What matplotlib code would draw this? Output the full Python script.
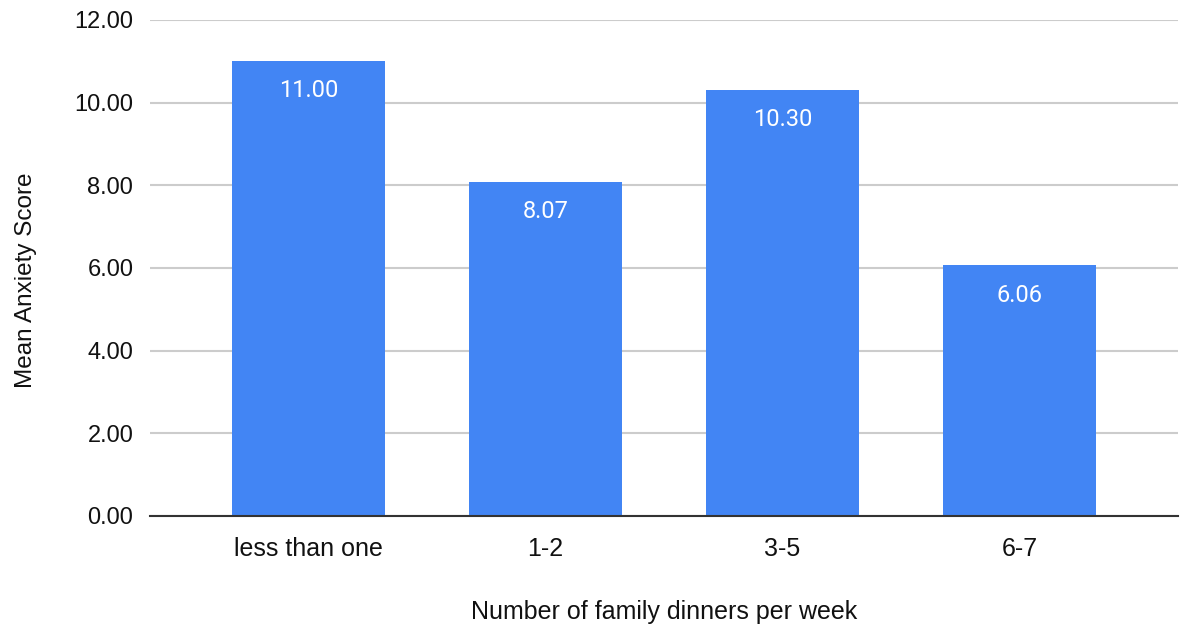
import matplotlib.pyplot as plt

categories = ['less than one', '1-2', '3-5', '6-7']
mean_anxiety = [11.00, 8.07, 10.30, 6.06]
y_ticks = [0, 2, 4, 6, 8, 10, 12]

BAR_COLOR = '#4285f4'

fig = plt.figure(figsize=(11.83, 6.24), dpi=100)
ax = fig.add_axes([0.1268, 0.1731, 0.869, 0.7949])

x = list(range(len(categories)))
bars = ax.bar(x, mean_anxiety, width=0.646, color=BAR_COLOR, zorder=2)

for xi, v in zip(x, mean_anxiety):
    ax.annotate(f'{v:.2f}', xy=(xi, v), xytext=(0, -13), textcoords='offset points',
                ha='center', va='top', color='white', fontsize=17, family='Roboto')

ax.set_xlim(-0.669, len(categories) - 1 + 0.669)
ax.set_ylim(0, 12)
ax.set_yticks(y_ticks)
ax.set_yticklabels([f'{t:.2f}' for t in y_ticks], fontsize=17, family='Liberation Sans')
ax.set_xticks(x)
ax.set_xticklabels(categories, fontsize=18, family='Liberation Sans')

ax.yaxis.grid(True, color='#cccccc', linewidth=1.5, zorder=0)
ax.tick_params(axis='both', length=0, colors='#111111')
ax.tick_params(axis='y', pad=12)
ax.tick_params(axis='x', pad=15)
for side in ['top', 'right', 'left']:
    ax.spines[side].set_visible(False)
ax.spines['bottom'].set_color('#333333')
ax.spines['bottom'].set_linewidth(1.5)
ax.spines['bottom'].set_zorder(3)

ax.set_xlabel('Number of family dinners per week', fontsize=18, family='Liberation Sans',
              color='#111111', labelpad=28)
ax.set_ylabel('Mean Anxiety Score', fontsize=17.5, family='Liberation Sans',
              color='#111111', labelpad=20)
ax.yaxis.set_label_coords(-0.1095, 0.476)

fig.savefig('out.png', dpi=100)
